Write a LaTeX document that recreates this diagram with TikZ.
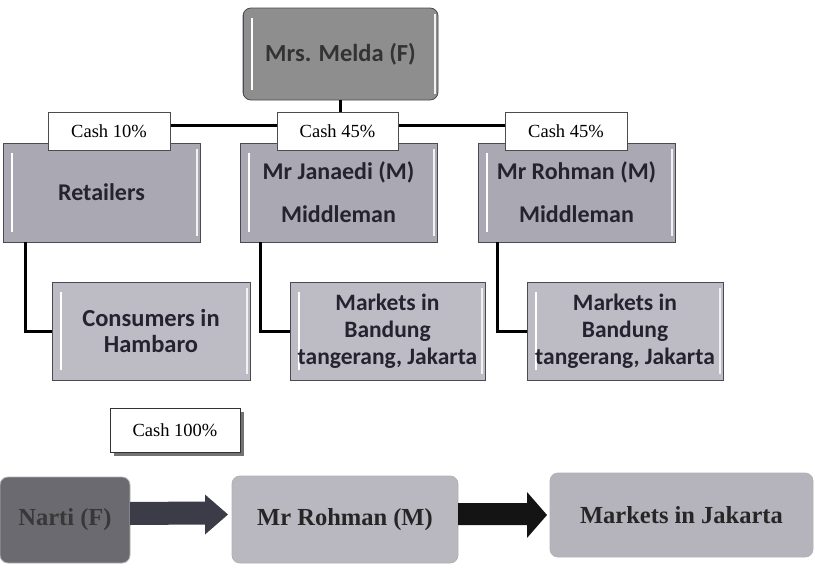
\documentclass[tikz,border=0pt]{standalone}
\usepackage{fontspec}
\setmainfont{Liberation Serif}
\newfontfamily\calibf{Carlito}
\usetikzlibrary{calc,backgrounds}
\definecolor{topfill}{HTML}{A9A8B3}
\definecolor{lowfill}{HTML}{BDBCC4}
\definecolor{meldafill}{HTML}{8E8E8E}
\definecolor{nartifill}{HTML}{6A6A70}
\definecolor{rohfill}{HTML}{B9B8C0}
\definecolor{mkjfill}{HTML}{B5B4BD}
\definecolor{boxtext}{HTML}{24232F}
\definecolor{edge}{HTML}{4A4A52}
\definecolor{arrowone}{HTML}{3C3C48}
\begin{document}
\begin{tikzpicture}[x=1pt,y=-1pt,
  base/.style={inner sep=0pt, outer sep=0pt, align=center, draw=edge, line width=0.8pt},
  bevel/.style={path picture={
    \draw[white, line width=2.5pt] ([xshift=9pt,yshift=-10pt]path picture bounding box.north west) -- ([xshift=9pt,yshift=10pt]path picture bounding box.south west);
    \draw[white!90!gray, line width=2pt] ([xshift=-3pt,yshift=-6pt]path picture bounding box.north east) -- ([xshift=-3pt,yshift=6pt]path picture bounding box.south east);
    \draw[edge, line width=2.5pt] (path picture bounding box.north west) -- (path picture bounding box.south west);
  }},
  topbox/.style={base, bevel, fill=topfill, text=boxtext, minimum width=197, minimum height=99,
     font=\calibf\bfseries\fontsize{24}{28}\selectfont},
  lowbox/.style={base, bevel, fill=lowfill, text=boxtext, minimum height=98,
     font=\calibf\bfseries\fontsize{24.5}{26.5}\selectfont},
  cashlabel/.style={inner sep=0pt, outer sep=0pt, draw=black!70, line width=0.6pt, fill=white,
     minimum height=38, font=\fontsize{18.5}{22}\selectfont},
  conn/.style={line width=3pt, black},
  bottombox/.style={inner sep=0pt, outer sep=0pt, rounded corners=8pt, draw=gray!60, line width=0.8pt,
     font=\bfseries\fontsize{24.5}{28}\selectfont, text=black!85}
]
\useasboundingbox (0,0) rectangle (815,568);

% top node
\node[base, bevel, rounded corners=8pt, fill=meldafill, text=black!80, minimum width=195, minimum height=92,
  font=\calibf\bfseries\fontsize{24.5}{28}\selectfont] (melda) at (340.5,54) {Mrs. Melda (F)};

% second row
\node[topbox] (ret) at (101.5,192.5) {Retailers};
\node[topbox] (jan) at (338.5,192.5) {Mr Janaedi (M)\\[15pt]Middleman};
\node[topbox] (roh) at (576.5,192.5) {Mr Rohman (M)\\[15pt]Middleman};

% third row
\node[lowbox, minimum width=198] (cons) at (151,331) {Consumers in\\Hambaro};
\node[lowbox, minimum width=195, font=\calibf\bfseries\fontsize{23.5}{27}\selectfont] (mka) at (387.5,331) {Markets in\\Bandung\\tangerang, Jakarta};
\node[lowbox, minimum width=196, font=\calibf\bfseries\fontsize{23.5}{27}\selectfont] (mkb) at (625,331) {Markets in\\Bandung\\tangerang, Jakarta};

\coordinate (junction) at (melda.south |- 0,125);

% connectors
\draw[conn] (melda.south) -- (junction);
\draw[conn] (109,125) coordinate (lft) -- (566,125) coordinate (rgt);
\draw[conn] ([xshift=22pt]ret.south west) |- (cons.west);
\draw[conn] ([xshift=20pt]jan.south west) |- (mka.west);
\draw[conn] ([xshift=19pt]roh.south west) |- (mkb.west);

\node[cashlabel, minimum width=122] (c10) at (lft |- 0,131) {Cash 10\%};
\node[cashlabel, minimum width=121] (c45a) at (337.5,131) {Cash 45\%};
\node[cashlabel, minimum width=122] (c45b) at (rgt |- 0,131) {Cash 45\%};

% bottom chain
\node[inner sep=0pt, outer sep=0pt, draw=black!80, line width=0.6pt, fill=white,
  minimum width=130, minimum height=44, font=\fontsize{18.5}{22}\selectfont] (c100) at (175,430) {Cash 100\%};
\begin{scope}[on background layer]
  \fill[black!55] ([xshift=4pt,yshift=-4pt]c100.south west) rectangle ([xshift=4pt,yshift=-4pt]c100.north east);
\end{scope}

\node[bottombox, fill=nartifill, text=black!78, minimum width=130, minimum height=86] (narti) at (65,520) {Narti (F)};
\node[bottombox, fill=rohfill, minimum width=226, minimum height=87] (rohb) at (345,519.5) {Mr Rohman (M)};
\node[bottombox, fill=mkjfill, minimum width=263, minimum height=84] (mkj) at (681.5,515) {Markets in Jakarta};

\fill[arrowone] ([yshift=18pt]narti.east) -- ([xshift=-27pt,yshift=18pt]rohb.west)
  -- ([xshift=-27pt,yshift=25pt]rohb.west) -- ([xshift=-4pt,yshift=5pt]rohb.west)
  -- ([xshift=-27pt,yshift=-15pt]rohb.west) -- ([xshift=-27pt,yshift=-5pt]rohb.west)
  -- ([yshift=-5pt]narti.east) -- cycle;
\fill[black!92] ([yshift=16.5pt]rohb.east) -- ([xshift=-23pt,yshift=12pt]mkj.west)
  -- ([xshift=-23pt,yshift=23pt]mkj.west) -- ([xshift=-3pt]mkj.west)
  -- ([xshift=-23pt,yshift=-23pt]mkj.west) -- ([xshift=-23pt,yshift=-10pt]mkj.west)
  -- ([yshift=-5.5pt]rohb.east) -- cycle;
\end{tikzpicture}
\end{document}
